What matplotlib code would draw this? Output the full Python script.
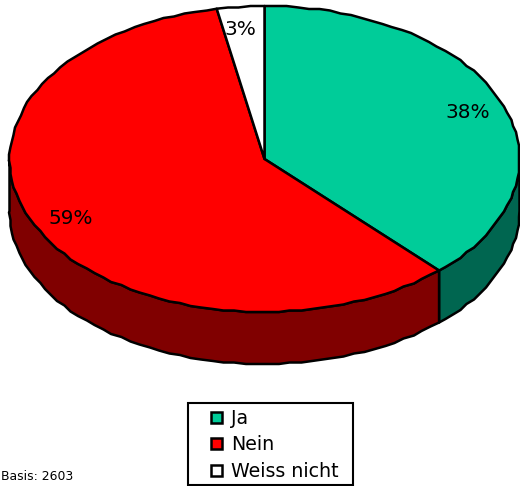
import numpy as np
from matplotlib import pyplot as plt
from matplotlib.patches import Polygon, Rectangle

labels = ["Ja", "Nein", "Weiss nicht"]
shares = [38, 59, 3]
share_labels = ["38%", "59%", "3%"]
top_colors = ["#00cc99", "#ff0000", "#ffffff"]
side_colors = ["#006650", "#800000", "#808080"]

W, H = 520, 486
cx, cy = 264.5, 159
rx, ry = 255, 153
depth = 52
grid = 1.5  # the outline of the original is slightly stepped

plt.rcParams['font.family'] = ['DejaVu Sans']
fig = plt.figure(figsize=(W / 100, H / 100), dpi=100)
ax = fig.add_axes([0, 0, 1, 1])
ax.set_xlim(0, W)
ax.set_ylim(H, 0)
ax.axis("off")

def ell(a):
    # a in degrees clockwise from 12 o'clock
    a = np.radians(a)
    x = cx + rx * np.sin(a)
    y = cy - ry * np.cos(a)
    # snap the inner points, keep the slice ends where they are
    x[1:-1] = np.round(x[1:-1] / grid) * grid
    y[1:-1] = np.round(y[1:-1] / grid) * grid
    return x, y

edges = np.cumsum([0] + shares) * 3.6

# side wall, only the front half (90..270 deg clockwise) shows
for i in range(3):
    lo = max(edges[i], 90)
    hi = min(edges[i + 1], 270)
    if lo >= hi:
        continue
    t = np.arange(lo, hi, 2.5)
    t = np.r_[t, hi]
    x, y = ell(t)
    pts = np.r_[np.c_[x, y], np.c_[x[::-1], y[::-1] + depth]]
    ax.add_patch(Polygon(pts, closed=True, fc=side_colors[i], ec="black", lw=1.8, joinstyle="round"))

# top slices
for i in range(3):
    t = np.arange(edges[i], edges[i + 1], 2.5)
    t = np.r_[t, edges[i + 1]]
    x, y = ell(t)
    pts = np.r_[[[cx, cy]], np.c_[x, y]]
    ax.add_patch(Polygon(pts, closed=True, fc=top_colors[i], ec="black", lw=1.8, joinstyle="round"))

label_pos = [(467.5, 118), (71, 224), (240, 35)]
for s, (x, y) in zip(share_labels, label_pos):
    ax.text(x, y, s, fontsize=14.4, ha="center", va="baseline", color="black")

# legend box
ax.add_patch(Rectangle((188, 403), 165, 82, fc="white", ec="black", lw=1.5, clip_on=False))
for name, col, y in zip(labels, top_colors, [424, 450, 477]):
    ax.add_patch(Rectangle((211, y - 12), 11, 11, fc=col, ec="black", lw=1.8))
    ax.text(231, y, name, fontsize=13.7, va="baseline", color="black")

ax.text(1, 480, "Basis: 2603", fontsize=8.9, va="baseline", color="black")

fig.savefig("out.png", dpi=100)
